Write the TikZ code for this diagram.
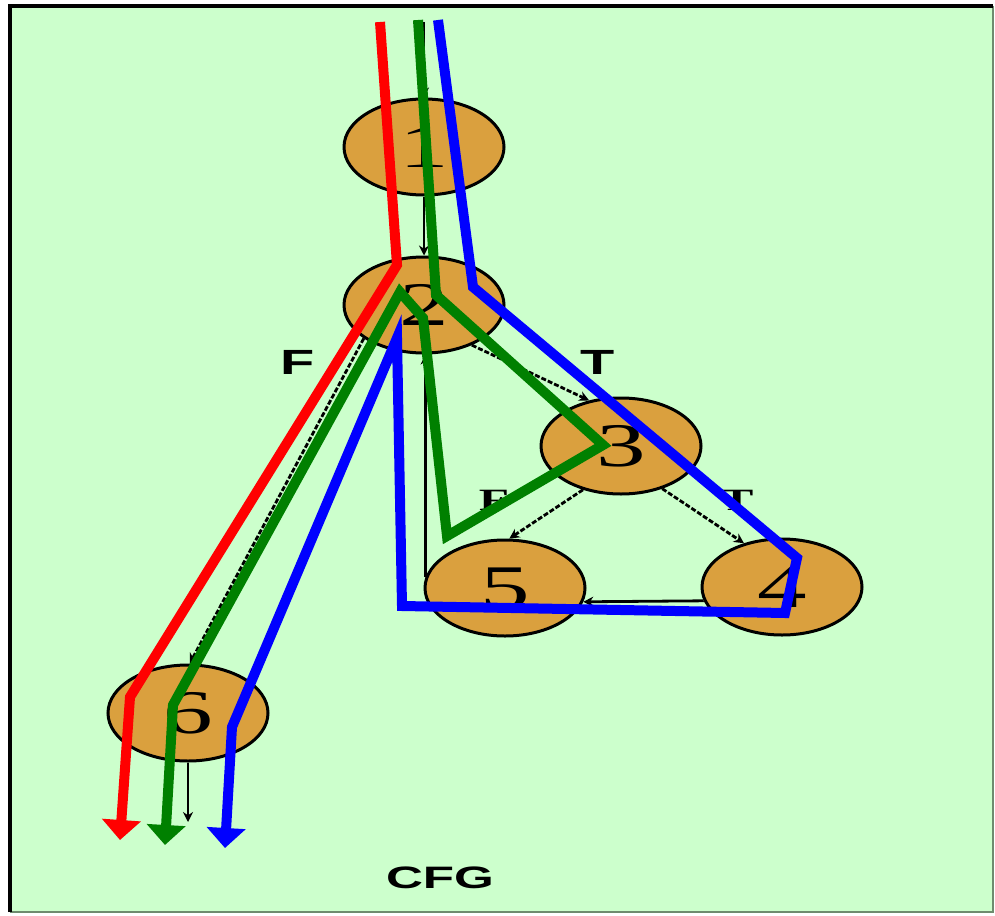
\documentclass[tikz,border=0pt]{standalone}
\usepackage{fontspec}
\setmainfont{Liberation Serif}
\newfontfamily\lsans{Liberation Sans}
\usepackage{graphicx}
\usetikzlibrary{shapes.geometric,arrows.meta}
\definecolor{bggreen}{RGB}{204,255,204}
\definecolor{nodefill}{RGB}{218,160,62}
\definecolor{pgreen}{RGB}{0,128,0}
\definecolor{edgegray}{RGB}{110,140,110}
\newcommand\wide[2][1.6]{\scalebox{#1}[1]{#2}}
\tikzset{
  bb/.style={ellipse,draw=black,line width=3pt,fill=nodefill,minimum width=160pt,minimum height=96pt,inner sep=0pt},
  flow/.style={line width=2.8pt,-{Stealth[length=10pt,width=10pt]}},
  dflow/.style={flow,dash pattern=on 5pt off 2pt},
  path red/.style={draw=red,line width=10pt,-{Triangle[length=20pt,width=38pt]}},
  path green/.style={draw=pgreen,line width=10pt,-{Triangle[length=20pt,width=38pt]}},
  path blue/.style={draw=blue,line width=10pt,-{Triangle[length=20pt,width=38pt]}},
  sanslab/.style={font=\lsans\bfseries\fontsize{35}{35}\selectfont,inner sep=0pt},
  seriflab/.style={font=\bfseries\fontsize{31}{31}\selectfont,inner sep=0pt},
  numtxt/.style={font=\fontsize{62}{62}\selectfont}
}
\begin{document}
\begin{tikzpicture}[x=1pt,y=-1pt]
\useasboundingbox (0,0) rectangle (995,915);
\fill[white] (0,0) rectangle (995,915);
\fill[bggreen] (10,6) rectangle (993,912);
\draw[edgegray,line width=2pt] (993,6) -- (993,912) -- (10,912);
\draw[black,line width=3.5pt] (10,912) -- (10,6) -- (993,6);

% nodes
\node[bb,numtxt] (n1) at (424,147) {\wide{1}};
\node[bb,numtxt] (n2) at (424,305) {\wide{2}};
\node[bb,numtxt] (n3) at (621,446) {\wide{3}};
\node[bb,numtxt] (n5) at (505,588) {\wide{5}};
\node[bb,numtxt] (n4) at (782,587) {\wide{4}};
\node[bb,numtxt] (n6) at (188,713) {\wide{6}};

\coordinate (entry) at (424,22);
\coordinate (exit) at (188,822);

% black CFG edges
\draw[flow] (entry) -- (n1.north);
\draw[flow] (n1.south) -- (n2.north);
\draw[dflow] (n2.-40) -- (n3.125);
\draw[dflow] (n2.209) -- (n6.88);
\draw[dflow] (n3.229) -- (n5.85);
\draw[dflow] (n3.-46) -- (n4.131);
\draw[flow] (n4.190) -- (n5.350);
\draw[flow] (n5.172) -- (n5.172 |- n2.south);
\draw[flow] (n6.south) -- (exit);

% labels
\node[sanslab] (lf1) at (298,362) {\wide{F}};
\node[sanslab] (lt1) at (598,362) {\wide{T}};
\node[seriflab] (lf2) at (494,500) {\wide{F}};
\node[seriflab] (lt2) at (737,500) {\wide{T}};

% coloured paths
\draw[path red] (380,22) -- (397,265) -- (130,697) -- (120,840);
\draw[path green] (418,20) -- (436,295) -- (603,445) -- (447,536) -- (423,318) -- (400,292) -- (173,705) -- (165,845);
\draw[path blue] (438,20) -- (473,287) -- (797,558) -- (785,613) -- (402,606) -- (397,338) -- (232,727) -- (225,848);

\node[font=\lsans\bfseries\fontsize{31}{31}\selectfont,inner sep=0pt] (cfg) at (440,878) {\wide[1.65]{CFG}};
\end{tikzpicture}
\end{document}
